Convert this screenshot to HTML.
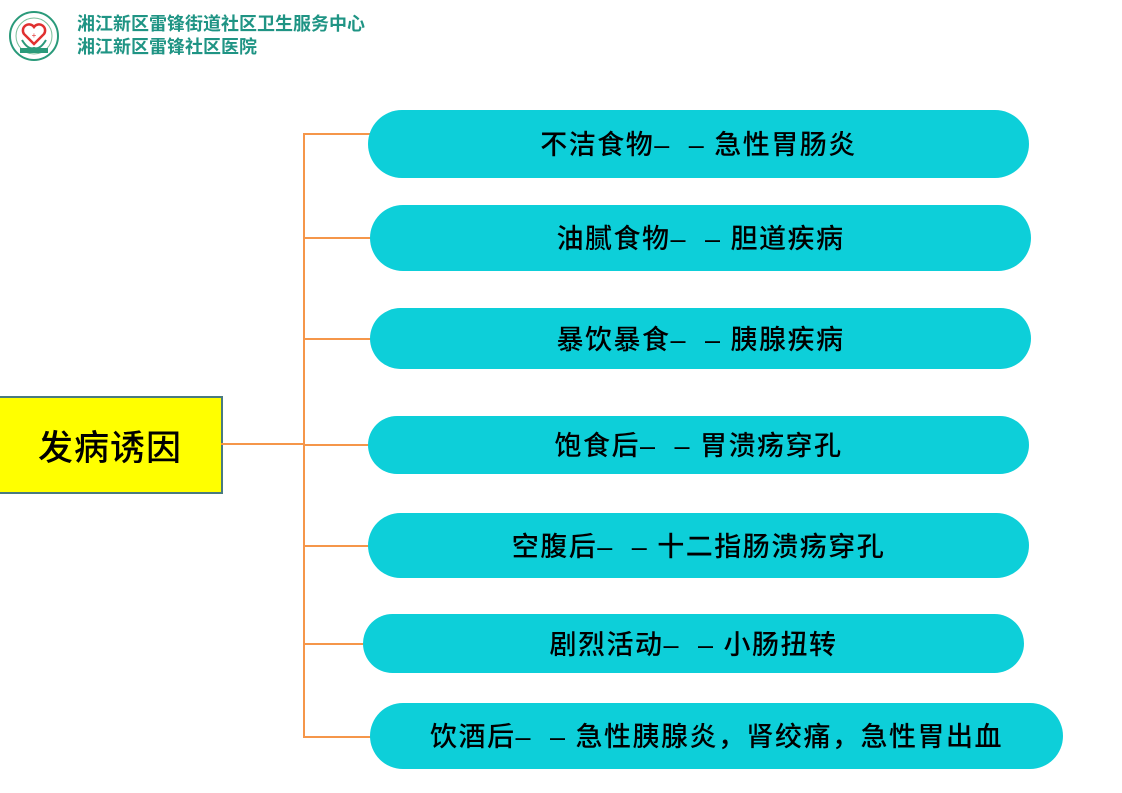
<!DOCTYPE html>
<html><head><meta charset="utf-8"><style>
body{margin:0;width:1122px;height:793px;background:#fff;position:relative;overflow:hidden;font-family:"Liberation Sans","Noto Sans CJK SC",sans-serif}
.p{position:absolute;box-sizing:border-box;padding-bottom:3px;background:#0dcfd9;border-radius:34px;display:flex;align-items:center;justify-content:center;font-size:27px;letter-spacing:1.5px;color:#000;font-weight:500}
.l{position:absolute;background:#f5964a;height:2px}
.hd{position:absolute;left:77px;color:#1f9484;font-size:18px;line-height:22px;font-weight:bold}
</style></head><body>
<svg style="position:absolute;left:8px;top:10px" width="52" height="52" viewBox="0 0 52 52">
<circle cx="26" cy="26" r="24" fill="#fff" stroke="#2a9a7a" stroke-width="2"/>
<circle cx="26" cy="26" r="18" fill="none" stroke="#7bbf9a" stroke-width="1"/>
<path d="M26 34 L16 24 A5 5 0 0 1 26 17 A5 5 0 0 1 36 24 Z" fill="none" stroke="#e03030" stroke-width="2.5"/>
<text x="26" y="28" font-size="8" fill="#e03030" text-anchor="middle">+</text>
<path d="M14 30 Q20 40 26 38 Q32 40 38 30" fill="none" stroke="#2a9a7a" stroke-width="2"/>
<rect x="12" y="38" width="28" height="5" fill="#2a9a7a"/>
</svg>
<div class="hd" style="top:13px">湘江新区雷锋街道社区卫生服务中心</div>
<div class="hd" style="top:36px">湘江新区雷锋社区医院</div>

<div style="position:absolute;left:-3px;top:396px;width:222px;height:94px;background:#ffff00;border:2px solid #4a7a80;display:flex;align-items:center;justify-content:center;font-size:35px;letter-spacing:1px;color:#000;font-weight:500;box-sizing:content-box">发病诱因</div>

<div style="position:absolute;left:303px;top:133px;width:2px;height:605px;background:#f5964a"></div>
<div class="l" style="left:221px;top:443px;width:83px"></div>
<div class="l" style="left:304px;top:133px;width:70px"></div>
<div class="l" style="left:304px;top:237px;width:70px"></div>
<div class="l" style="left:304px;top:338px;width:70px"></div>
<div class="l" style="left:304px;top:444px;width:70px"></div>
<div class="l" style="left:304px;top:545px;width:70px"></div>
<div class="l" style="left:304px;top:643px;width:65px"></div>
<div class="l" style="left:304px;top:736px;width:70px"></div>

<div class="p" style="left:368px;top:110px;width:661px;height:68px">不洁食物– &nbsp;– 急性胃肠炎</div>
<div class="p" style="left:370px;top:205px;width:661px;height:66px">油腻食物– &nbsp;– 胆道疾病</div>
<div class="p" style="left:370px;top:308px;width:661px;height:61px">暴饮暴食– &nbsp;– 胰腺疾病</div>
<div class="p" style="left:368px;top:416px;width:661px;height:58px">饱食后– &nbsp;– 胃溃疡穿孔</div>
<div class="p" style="left:368px;top:513px;width:661px;height:65px">空腹后– &nbsp;– 十二指肠溃疡穿孔</div>
<div class="p" style="left:363px;top:614px;width:661px;height:59px">剧烈活动– &nbsp;– 小肠扭转</div>
<div class="p" style="left:370px;top:703px;width:693px;height:66px">饮酒后– &nbsp;– 急性胰腺炎，肾绞痛，急性胃出血</div>
</body></html>
